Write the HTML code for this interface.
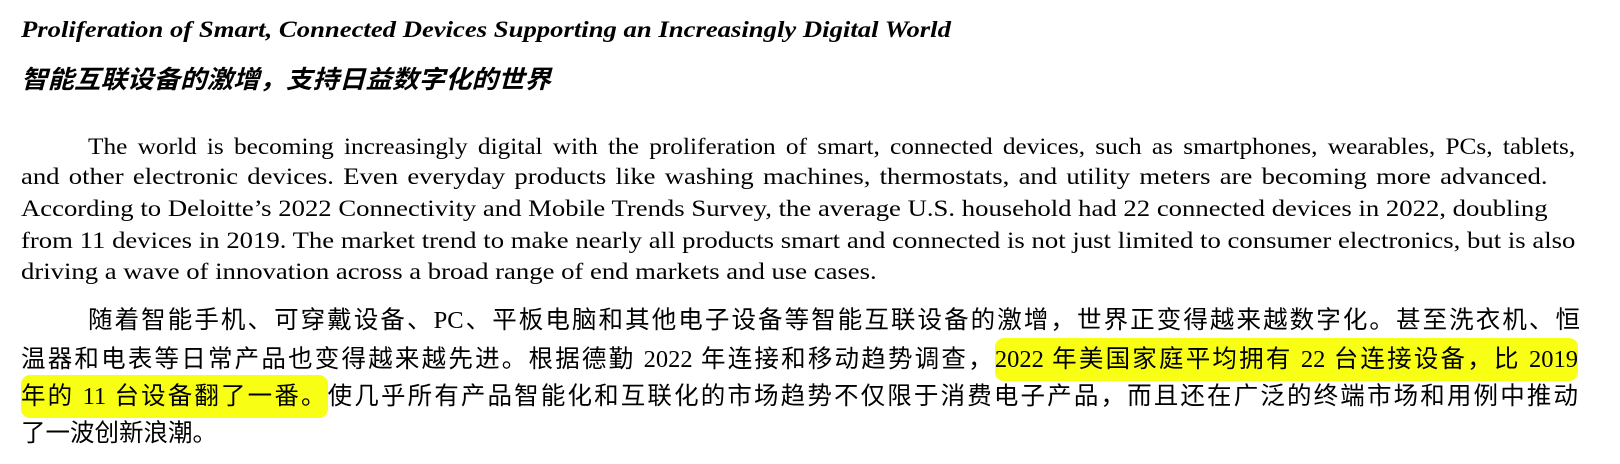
<!DOCTYPE html>
<html><head><meta charset="utf-8">
<style>
body{margin:0;width:1620px;height:464px;background:#fff;position:relative;overflow:hidden;color:#000}
.l{position:absolute;white-space:nowrap;line-height:1;transform-origin:0 0}
.en{font-family:"Liberation Serif","Noto Serif CJK SC",serif;font-size:23px;transform:scaleX(1.16)}
.zh{font-family:"Liberation Serif","Noto Sans CJK SC",sans-serif;font-size:24.5px}
.j{text-align:justify;text-align-last:justify;white-space:normal}
.hl{background:#f8ff14;border-radius:9px;padding:8px 0}
</style></head><body>
<div class="l" style="left:21px;top:18px;font-family:'Liberation Serif',serif;font-weight:bold;font-style:italic;font-size:23px;transform:scaleX(1.16)">Proliferation of Smart, Connected Devices Supporting an Increasingly Digital World</div>
<div class="l" style="left:21px;top:66px;font-family:'Noto Sans CJK SC',sans-serif;font-weight:bold;font-style:italic;font-size:25px;transform:scaleX(1.06)">智能互联设备的激增，支持日益数字化的世界</div>

<div>
<div class="l en j" style="left:88px;width:1352px;top:135px;transform:scaleX(1.1)">The world is becoming increasingly digital with the proliferation of smart, connected devices, such as smartphones, wearables, PCs, tablets,</div>
<div class="l en j" style="left:21px;width:1316px;top:165px">and other electronic devices. Even everyday products like washing machines, thermostats, and utility meters are becoming more advanced.</div>
<div class="l en j" style="left:21px;width:1316px;top:197px">According to Deloitte’s 2022 Connectivity and Mobile Trends Survey, the average U.S. household had 22 connected devices in 2022, doubling</div>
<div class="l en j" style="left:21px;width:1340px;top:229px">from 11 devices in 2019. The market trend to make nearly all products smart and connected is not just limited to consumer electronics, but is also</div>
<div class="l en" style="left:21px;top:260px">driving a wave of innovation across a broad range of end markets and use cases.</div>
</div>

<div>
<div class="l zh j" style="left:88px;width:1492px;top:309px">随着智能手机、可穿戴设备、PC、平板电脑和其他电子设备等智能互联设备的激增，世界正变得越来越数字化。甚至洗衣机、恒</div>
<div class="l zh j" style="left:21px;width:1557px;top:348px">温器和电表等日常产品也变得越来越先进。根据德勤 2022 年连接和移动趋势调查，<span class="hl">2022 年美国家庭平均拥有 22 台连接设备，比 2019</span></div>
<div class="l zh j" style="left:21px;width:1557px;top:385px"><span class="hl">年的 11 台设备翻了一番。</span>使几乎所有产品智能化和互联化的市场趋势不仅限于消费电子产品，而且还在广泛的终端市场和用例中推动</div>
<div class="l zh" style="left:21px;top:422px">了一波创新浪潮。</div>
</div>
</body></html>
